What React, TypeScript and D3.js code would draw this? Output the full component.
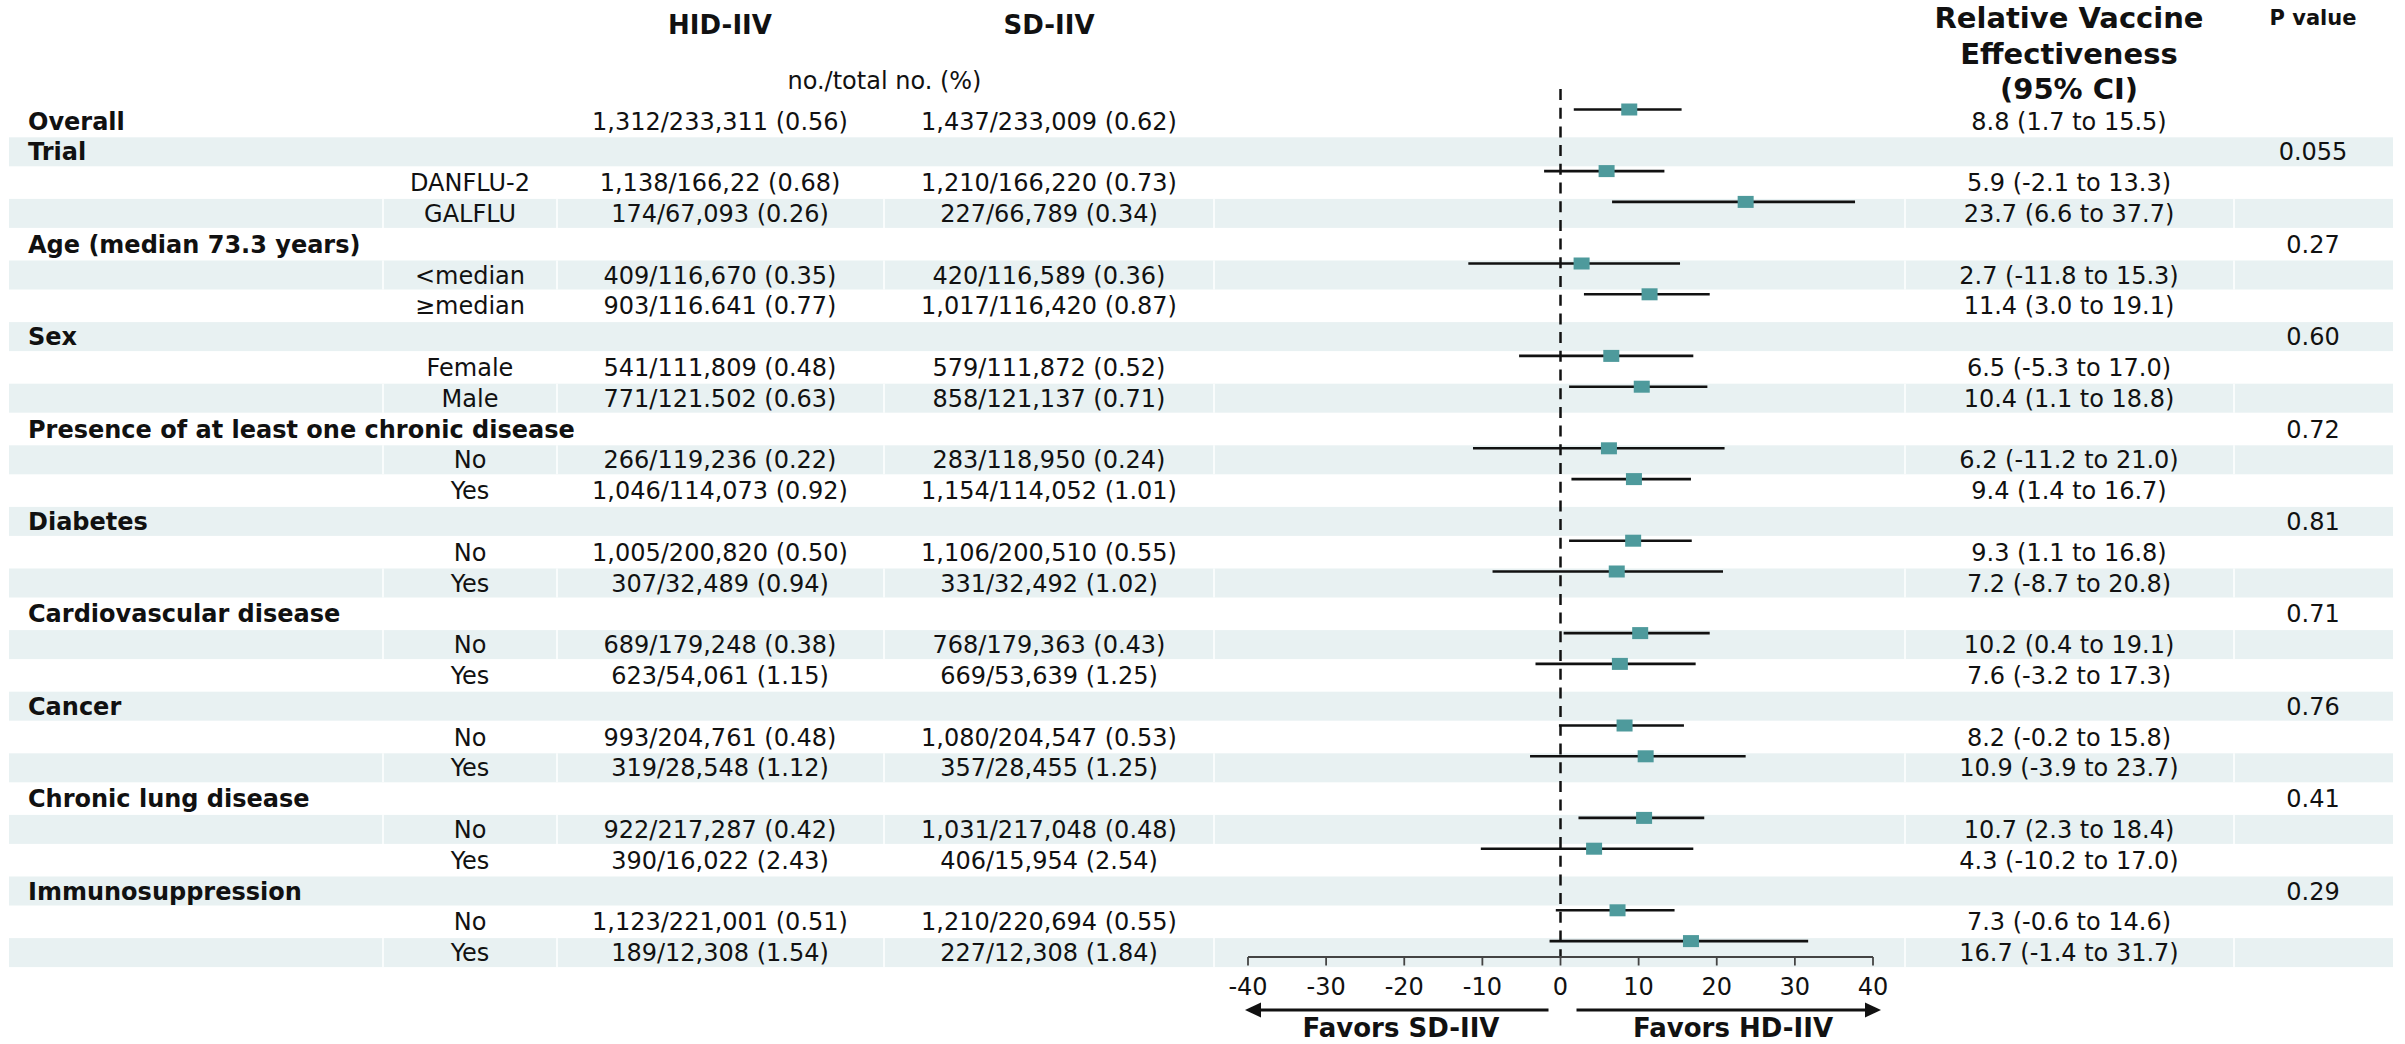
import React from "react";
import * as d3 from "d3";

// ---- table rows (top to bottom) ----
const labels = [
  "Overall",
  "Trial", "DANFLU-2", "GALFLU",
  "Age (median 73.3 years)", "<median", "≥median",
  "Sex", "Female", "Male",
  "Presence of at least one chronic disease", "No", "Yes",
  "Diabetes", "No", "Yes",
  "Cardiovascular disease", "No", "Yes",
  "Cancer", "No", "Yes",
  "Chronic lung disease", "No", "Yes",
  "Immunosuppression", "No", "Yes",
];

// 0 = bold heading row, 1 = subgroup row
const levels = [0, 0, 1, 1, 0, 1, 1, 0, 1, 1, 0, 1, 1, 0, 1, 1, 0, 1, 1, 0, 1, 1, 0, 1, 1, 0, 1, 1];

const hidCounts = [
  "1,312/233,311 (0.56)",
  "", "1,138/166,22 (0.68)", "174/67,093 (0.26)",
  "", "409/116,670 (0.35)", "903/116.641 (0.77)",
  "", "541/111,809 (0.48)", "771/121.502 (0.63)",
  "", "266/119,236 (0.22)", "1,046/114,073 (0.92)",
  "", "1,005/200,820 (0.50)", "307/32,489 (0.94)",
  "", "689/179,248 (0.38)", "623/54,061 (1.15)",
  "", "993/204,761 (0.48)", "319/28,548 (1.12)",
  "", "922/217,287 (0.42)", "390/16,022 (2.43)",
  "", "1,123/221,001 (0.51)", "189/12,308 (1.54)",
];

const sdCounts = [
  "1,437/233,009 (0.62)",
  "", "1,210/166,220 (0.73)", "227/66,789 (0.34)",
  "", "420/116,589 (0.36)", "1,017/116,420 (0.87)",
  "", "579/111,872 (0.52)", "858/121,137 (0.71)",
  "", "283/118,950 (0.24)", "1,154/114,052 (1.01)",
  "", "1,106/200,510 (0.55)", "331/32,492 (1.02)",
  "", "768/179,363 (0.43)", "669/53,639 (1.25)",
  "", "1,080/204,547 (0.53)", "357/28,455 (1.25)",
  "", "1,031/217,048 (0.48)", "406/15,954 (2.54)",
  "", "1,210/220,694 (0.55)", "227/12,308 (1.84)",
];

// relative vaccine effectiveness, % (point estimate and 95% CI)
const rve: (number | null)[] = [
  8.8, null, 5.9, 23.7, null, 2.7, 11.4, null, 6.5, 10.4, null, 6.2, 9.4, null,
  9.3, 7.2, null, 10.2, 7.6, null, 8.2, 10.9, null, 10.7, 4.3, null, 7.3, 16.7,
];
const ciLow: (number | null)[] = [
  1.7, null, -2.1, 6.6, null, -11.8, 3.0, null, -5.3, 1.1, null, -11.2, 1.4, null,
  1.1, -8.7, null, 0.4, -3.2, null, -0.2, -3.9, null, 2.3, -10.2, null, -0.6, -1.4,
];
const ciHigh: (number | null)[] = [
  15.5, null, 13.3, 37.7, null, 15.3, 19.1, null, 17.0, 18.8, null, 21.0, 16.7, null,
  16.8, 20.8, null, 19.1, 17.3, null, 15.8, 23.7, null, 18.4, 17.0, null, 14.6, 31.7,
];

const pValues = [
  "", "0.055", "", "", "0.27", "", "", "0.60", "", "", "0.72", "", "", "0.81", "", "",
  "0.71", "", "", "0.76", "", "", "0.41", "", "", "0.29", "", "",
];

const axisTicks = [-40, -30, -20, -10, 0, 10, 20, 30, 40];

// ---- layout ----
const W = 2405;
const H = 1044;
const FONT = "'DejaVu Sans', Verdana, sans-serif";
const INK = "#111";
const BAND = "#e8f1f2";
const MARK = "#4e9a9c";

const tableLeft = 9;
const tableRight = 2393;
const colEdges = [383, 557, 884, 1214, 1905, 2234];
const subCenter = 470;
const hidCenter = 720;
const sdCenter = 1049;
const ciCenter = 2069;
const pCenter = 2313;

const rowPitch = 30.8;
const bandH = 29;
const firstRowTop = 106.5;

const x = d3.scaleLinear().domain([-40, 40]).range([1248, 1873]);
const rowTop = d3
  .scaleLinear()
  .domain([0, labels.length - 1])
  .range([firstRowTop, firstRowTop + rowPitch * (labels.length - 1)]);

const axisY = 957;
const arrowY = 1010;

// one decimal, plain hyphen for negatives
const fmt = (v: number) => v.toFixed(1);

function Txt(props: any) {
  const { children, size = 24, bold = false, anchor = "middle", cy, ...rest } = props;
  return (
    <text
      fontFamily={FONT}
      fontSize={size}
      fontWeight={bold ? "bold" : "normal"}
      textAnchor={anchor}
      fill={INK}
      y={cy}
      dy="0.36em"
      {...rest}
    >
      {children}
    </text>
  );
}

export default function App() {
  const zeroX = x(0);
  return (
    <svg
      width={W}
      height={H}
      viewBox={`0 0 ${W} ${H}`}
      style={{ position: "absolute", left: 0, top: 0, background: "#fff" }}
    >
      {/* row shading */}
      {labels.map((_, i) =>
        i % 2 === 1 ? (
          <g key={`band${i}`}>
            <rect x={tableLeft} y={rowTop(i)} width={tableRight - tableLeft} height={bandH} fill={BAND} />
            {levels[i] === 1 &&
              colEdges.map((cx) => (
                <line key={cx} x1={cx} x2={cx} y1={rowTop(i)} y2={rowTop(i) + bandH} stroke="#fff" strokeWidth={1.5} />
              ))}
          </g>
        ) : null
      )}

      {/* column headings */}
      <Txt cy={25} x={hidCenter} bold size={26}>HID-IIV</Txt>
      <Txt cy={25} x={sdCenter} bold size={26}>SD-IIV</Txt>
      <Txt cy={80} x={(hidCenter + sdCenter) / 2}>no./total no. (%)</Txt>
      <Txt cy={18} x={ciCenter} bold size={29}>Relative Vaccine</Txt>
      <Txt cy={53.5} x={ciCenter} bold size={29}>Effectiveness</Txt>
      <Txt cy={89} x={ciCenter} bold size={29}>(95% CI)</Txt>
      <Txt cy={17} x={pCenter} bold size={21}>P value</Txt>

      {/* table text */}
      {labels.map((lab, i) => {
        const cy = rowTop(i) + 14.5;
        const est = rve[i];
        return (
          <g key={`row${i}`}>
            {levels[i] === 0 ? (
              <Txt cy={cy} x={28} anchor="start" bold>{lab}</Txt>
            ) : (
              <Txt cy={cy} x={subCenter}>{lab}</Txt>
            )}
            {hidCounts[i] && <Txt cy={cy} x={hidCenter}>{hidCounts[i]}</Txt>}
            {sdCounts[i] && <Txt cy={cy} x={sdCenter}>{sdCounts[i]}</Txt>}
            {est !== null && (
              <Txt cy={cy} x={ciCenter}>
                {`${fmt(est)} (${fmt(ciLow[i] as number)} to ${fmt(ciHigh[i] as number)})`}
              </Txt>
            )}
            {pValues[i] && <Txt cy={cy} x={pCenter}>{pValues[i]}</Txt>}
          </g>
        );
      })}

      {/* reference line at zero */}
      <line x1={zeroX} x2={zeroX} y1={89} y2={axisY} stroke={INK} strokeWidth={2.5} strokeDasharray="11 7.7" />

      {/* estimates with confidence intervals */}
      {labels.map((_, i) => {
        const est = rve[i];
        if (est === null) return null;
        const my = rowTop(i) + 3;
        return (
          <g key={`ci${i}`}>
            <line x1={x(ciLow[i] as number)} x2={x(ciHigh[i] as number)} y1={my} y2={my} stroke={INK} strokeWidth={2.6} />
            <rect x={x(est) - 8} y={my - 6} width={16} height={12} fill={MARK} />
          </g>
        );
      })}

      {/* axis */}
      <line x1={x(-40)} x2={x(40)} y1={axisY} y2={axisY} stroke="#444" strokeWidth={1.8} />
      {axisTicks.map((t) => (
        <g key={`t${t}`}>
          <line x1={x(t)} x2={x(t)} y1={axisY} y2={axisY + 8.5} stroke="#444" strokeWidth={1.8} />
          <Txt cy={986} x={x(t)}>{String(t)}</Txt>
        </g>
      ))}

      {/* direction arrows */}
      <line x1={x(-40) + 10} x2={zeroX - 12} y1={arrowY} y2={arrowY} stroke={INK} strokeWidth={3} />
      <path d={`M${x(-40) - 3},${arrowY} l16,-7.5 l0,15 z`} fill={INK} />
      <line x1={zeroX + 16} x2={x(40) - 5} y1={arrowY} y2={arrowY} stroke={INK} strokeWidth={3} />
      <path d={`M${x(40) + 8},${arrowY} l-16,-7.5 l0,15 z`} fill={INK} />
      <text x={1401} y={1037} fontFamily={FONT} fontSize={26} fontWeight="bold" textAnchor="middle" fill={INK}>
        Favors SD-IIV
      </text>
      <text x={1733} y={1037} fontFamily={FONT} fontSize={26} fontWeight="bold" textAnchor="middle" fill={INK}>
        Favors HD-IIV
      </text>
    </svg>
  );
}
